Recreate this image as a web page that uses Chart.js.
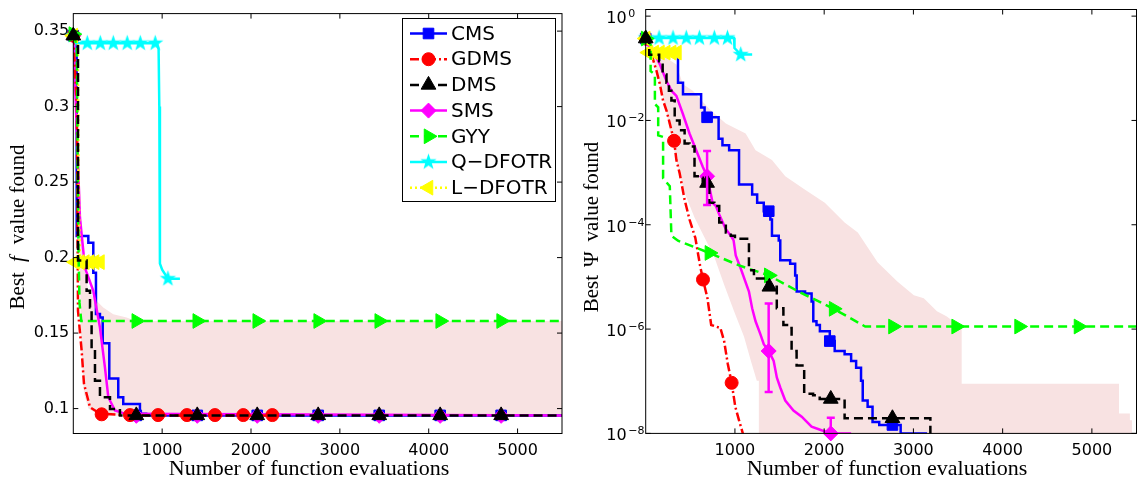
<!DOCTYPE html>
<html>
<head>
<meta charset="utf-8">
<script src="https://cdn.jsdelivr.net/npm/chart.js@4.4.1/dist/chart.umd.min.js"></script>
<style>
  html, body { margin: 0; padding: 0; background: #fff; }
  #wrap { position: relative; width: 1146px; height: 481px; }
  canvas { position: absolute; top: 0; }
</style>
</head>
<body>
<div id="wrap">
  <canvas id="fChart" width="575" height="481" style="left:0"></canvas>
  <canvas id="psiChart" width="571" height="481" style="left:575px"></canvas>
</div>
<script>
// ---- tick labels ----
var xTicks = [1000, 2000, 3000, 4000, 5000];
var fTicks = [0.1, 0.15, 0.2, 0.25, 0.3, 0.35];
var psiTicks = [1, 1e-2, 1e-4, 1e-6, 1e-8];

// ---- left panel: best f value ----
var cmsFX = [0, 38, 169, 225, 255, 300, 331, 405, 506, 562, 750, 820, 5500];
var cmsFY = [0.347, 0.2143, 0.2098, 0.190, 0.1626, 0.1603, 0.1432, 0.120, 0.1075, 0.1031, 0.0965, 0.0955, 0.0955];
var cmsFMarkX = [0, 709, 1395, 2070, 2756, 3443, 4129, 4815];
var cmsFMarkY = [0.347, 0.0955, 0.0955, 0.0955, 0.0955, 0.0955, 0.0955, 0.0955];

var gdmsFX = [0, 40, 53, 94, 120, 188, 300, 650, 2300];
var gdmsFY = [0.347, 0.30, 0.1647, 0.1383, 0.1165, 0.1009, 0.0967, 0.0955, 0.0955];
var gdmsFMarkX = [0, 319, 638, 954, 1279, 1594, 1913, 2240];
var gdmsFMarkY = [0.347, 0.0962, 0.0957, 0.0957, 0.0957, 0.0957, 0.0957, 0.0957];

var dmsFX = [0, 53, 150, 188, 206, 244, 300, 413, 525, 5500];
var dmsFY = [0.347, 0.198, 0.178, 0.167, 0.138, 0.1185, 0.1075, 0.0998, 0.0955, 0.0955];
var dmsFMarkX = [0, 709, 1395, 2070, 2756, 3443, 4129, 4815];
var dmsFMarkY = [0.347, 0.0955, 0.0955, 0.0955, 0.0955, 0.0955, 0.0955, 0.0955];

var smsFX = [0, 75, 132, 225, 300, 356, 394, 469, 588, 5500];
var smsFY = [0.347, 0.2264, 0.193, 0.178, 0.1537, 0.1273, 0.1075, 0.0987, 0.0965, 0.0955];
var smsFMarkX = [0, 709, 1395, 2070, 2756, 3443, 4129, 4815];
var smsFMarkY = [0.347, 0.0952, 0.0952, 0.0952, 0.0952, 0.0952, 0.0952, 0.0952];

var gyyFX = [0, 40, 50, 60, 70, 90, 5500];
var gyyFY = [0.348, 0.34, 0.25, 0.2, 0.17, 0.158, 0.158];
var gyyFMarkX = [0, 709, 1395, 2070, 2756, 3443, 4129, 4815];
var gyyFMarkY = [0.348, 0.158, 0.158, 0.158, 0.158, 0.158, 0.158, 0.158];

var qFX = [0, 30, 940, 960, 968, 975, 1000, 1065, 1200];
var qFY = [0.347, 0.342, 0.342, 0.338, 0.30, 0.196, 0.192, 0.186, 0.186];
var qFMarkX = [0, 157, 304, 450, 607, 754, 922, 1065];
var qFMarkY = [0.347, 0.342, 0.342, 0.342, 0.342, 0.342, 0.342, 0.186];

var lFX = [0, 50, 60, 75, 337];
var lFY = [0.347, 0.343, 0.25, 0.198, 0.196];
var lFMarkX = [0, 20, 75, 130, 185, 240, 300];
var lFMarkY = [0.347, 0.197, 0.197, 0.197, 0.197, 0.197, 0.197];

var bandFUpX = [0, 50, 80, 100, 170, 225, 337, 450, 600, 700, 5500];
var bandFUpY = [0.347, 0.30, 0.24, 0.20, 0.178, 0.1735, 0.1669, 0.1625, 0.1603, 0.158, 0.158];
var bandFLoX = [0, 50, 70, 90, 120, 170, 250, 400, 5500];
var bandFLoY = [0.347, 0.30, 0.20, 0.14, 0.11, 0.10, 0.097, 0.0955, 0.0955];

// ---- right panel: best psi value ----
var cmsPX = [0, 40, 362, 418, 621, 660, 817, 860, 935, 1046, 1193, 1249, 1323, 1397, 1415, 1491, 1508, 1619, 1675, 1692,
             1786, 1859, 1878, 1914, 1952, 2063, 2118, 2229, 2302, 2358, 2413, 2432, 2487, 2542, 2617, 2857, 3153];
var cmsPY = [0.372, 0.182, 0.0531, 0.0319, 0.0178, 0.0115, 0.00447, 0.00335, 0.00269, 5.89e-4, 3.80e-4, 2.63e-4, 1.82e-4, 1.26e-4, 6.17e-5, 5.01e-5, 2.09e-5, 1.78e-5, 1.07e-5, 5.25e-6,
             4.79e-6, 3.39e-6, 1.41e-6, 1.20e-6, 9.12e-7, 5.89e-7, 3.80e-7, 3.31e-7, 2.45e-7, 1.82e-7, 1.02e-7, 4.27e-8, 3.24e-8, 1.66e-8, 1.45e-8, 1e-8, 1e-8];
var cmsPMarkX = [0, 688, 1379, 2063, 2765];
var cmsPMarkY = [0.372, 0.0115, 1.82e-4, 5.89e-7, 1.45e-8];

var gdmsPX = [0, 40, 66, 122, 159, 195, 233, 270, 318, 344, 380, 436, 491, 556, 609, 642, 692, 734, 837, 879, 920, 963, 1004, 1046, 1087, 1100];
var gdmsPY = [0.372, 0.316, 0.182, 0.0881, 0.0493, 0.0240, 0.0155, 0.00871, 0.00407, 0.00174, 9.77e-4, 3.02e-4, 1.26e-4, 5.62e-5, 1.66e-5, 8.91e-6, 3.89e-6, 1.20e-6, 1.05e-6, 5.89e-7,
              2.14e-7, 9.33e-8, 3.24e-8, 1.78e-8, 1.02e-8, 5e-9];
var gdmsPMarkX = [0, 318, 642, 963];
var gdmsPMarkY = [0.372, 0.00407, 8.91e-6, 9.33e-8];

var dmsPX = [0, 40, 151, 190, 233, 260, 288, 325, 380, 436, 491, 547, 602, 639, 713, 769, 824, 898, 954, 1000,
             1157, 1213, 1360, 1469, 1543, 1598, 1635, 1691, 1776, 1876, 1950, 2229, 3190];
var dmsPY = [0.372, 0.182, 0.136, 0.0764, 0.0531, 0.0372, 0.0240, 0.0100, 0.00646, 0.00363, 0.00316, 8.51e-4, 7.94e-4, 6.31e-4, 2.63e-4, 2.29e-4, 1.10e-4, 7.08e-5, 6.17e-5, 5.37e-5,
             1.35e-5, 9.33e-6, 6.46e-6, 2.51e-6, 1.20e-6, 1.05e-6, 3.80e-7, 2.00e-7, 5.75e-8, 5.37e-8, 4.57e-8, 1.95e-8, 5e-9];
var dmsPMarkX = [0, 688, 1386, 2074, 2765];
var dmsPMarkY = [0.372, 6.31e-4, 6.46e-6, 4.57e-8, 1.95e-8];

var smsPX = [0, 40, 85, 159, 233, 288, 344, 417, 491, 566, 639, 688, 750, 787, 830, 898, 950, 985, 1009, 1065,
             1157, 1193, 1231, 1286, 1323, 1378, 1434, 1470, 1508, 1564, 1656, 1748, 1859, 1970, 2074, 2302];
var smsPY = [0.372, 0.25, 0.211, 0.118, 0.0570, 0.0372, 0.0295, 0.0133, 0.00562, 0.00269, 0.00130, 8.51e-4, 2.63e-4, 2.29e-4, 1.48e-4, 8.22e-5, 6.31e-5, 5.01e-5, 2.57e-5, 1.45e-5,
             5.25e-6, 2.51e-6, 1.41e-6, 7.94e-7, 5.13e-7, 3.80e-7, 2.45e-7, 1.17e-7, 7.59e-8, 4.27e-8, 2.75e-8, 2.09e-8, 1.35e-8, 1.15e-8, 1e-8, 1e-8];
var smsPMarkX = [0, 688, 1378, 2074];
var smsPMarkY = [0.372, 8.51e-4, 3.80e-7, 1e-8];
var smsErrX = [688, 1378, 2074];
var smsErrLo = [2.4e-4, 6.2e-8, 5e-9];
var smsErrHi = [2.6e-3, 3.1e-6, 2.0e-8];

var gyyPX = [0, 55, 55, 103, 103, 140, 140, 195, 195, 270, 288, 362, 714, 1047, 1379, 1711, 2106, 2460, 5500];
var gyyPY = [0.372, 0.282, 0.0881, 0.0764, 0.0206, 0.0179, 0.00518, 0.00483, 7.83e-4, 5.46e-4, 6.17e-5, 4.95e-5, 2.88e-5, 1.66e-5, 1.07e-5, 5.25e-6, 2.45e-6, 1.12e-6, 1.12e-6];
var gyyPMarkX = [0, 714, 1379, 2106, 2771, 3479, 4184, 4850];
var gyyPMarkY = [0.372, 2.88e-5, 1.07e-5, 2.45e-6, 1.12e-6, 1.12e-6, 1.12e-6, 1.12e-6];

var qPX = [0, 990, 995, 1065, 1193];
var qPY = [0.38, 0.38, 0.244, 0.183, 0.183];
var qPMarkX = [0, 150, 306, 455, 602, 769, 916, 1065];
var qPMarkY = [0.38, 0.38, 0.38, 0.38, 0.38, 0.38, 0.38, 0.183];

var lPX = [0, 20, 25, 360];
var lPY = [0.372, 0.37, 0.21, 0.2];
var lPMarkX = [0, 30, 95, 160, 225, 290, 350];
var lPMarkY = [0.372, 0.2, 0.2, 0.2, 0.2, 0.2, 0.2];

var bandPUpX = [0, 100, 250, 344, 417, 528, 713, 898, 1120, 1231, 1415, 1564, 1786, 2007, 2229, 2377, 2598, 2820, 3005, 3116,
                3264, 3375, 3541, 3541, 5304, 5304, 5426, 5426, 5449, 5449];
var bandPUpY = [0.372, 0.25, 0.15, 0.118, 0.0493, 0.0372, 0.0166, 0.00871, 0.00562, 0.00269, 0.00174, 8.51e-4, 4.68e-4, 2.63e-4, 1.10e-4, 7.08e-5, 1.91e-5, 8.13e-6, 4.47e-6, 3.89e-6,
                2.19e-6, 1.74e-6, 1.05e-6, 8.91e-8, 8.91e-8, 2.40e-8, 2.40e-8, 1.78e-8, 1.78e-8, 1e-9];
var bandPLoX = [0, 103, 214, 325, 436, 547, 658, 769, 879, 990, 1101, 1179, 1245, 1268, 1268, 5449];
var bandPLoY = [0.372, 0.118, 0.0204, 0.00234, 4.07e-4, 1.38e-4, 5.75e-5, 2.40e-5, 7.08e-6, 2.19e-6, 7.24e-7, 2.45e-7, 1.02e-7, 1.02e-7, 1e-9, 1e-9];

// ---- styles ----
var BLUE = '#0000ff', RED = '#ff0000', BLACK = '#000000', MAGENTA = '#ff00ff',
    GREEN = '#00ff00', CYAN = '#00ffff', YELLOW = '#ffff00', PINK = 'rgb(248,226,226)';
var DASH = [9, 5], DASHDOT = [9, 3, 2, 3], DOT = [2, 3];
var LW = 2.5;
var SANS = '"DejaVu Sans", "Liberation Sans", sans-serif';
var SERIF = '"Liberation Serif", "DejaVu Serif", serif';

function starImage(color, r) {
    var c = document.createElement('canvas');
    c.width = c.height = 2 * r + 2;
    var g = c.getContext('2d');
    g.beginPath();
    for (var i = 0; i < 10; i++) {
        var rr = i % 2 ? r * 0.4 : r;
        var ang = -Math.PI / 2 + i * Math.PI / 5;
        g.lineTo(r + 1 + rr * Math.cos(ang), r + 1 + rr * Math.sin(ang));
    }
    g.closePath();
    g.fillStyle = color;
    g.fill();
    return c;
}
var starPic = starImage(CYAN, 8.5);

var legendItems = [
    { label: 'CMS', color: BLUE, dash: [], shape: 'rect' },
    { label: 'GDMS', color: RED, dash: DASHDOT, shape: 'circle' },
    { label: 'DMS', color: BLACK, dash: DASH, shape: 'triangle', rot: 0 },
    { label: 'SMS', color: MAGENTA, dash: [], shape: 'rectRot' },
    { label: 'GYY', color: GREEN, dash: DASH, shape: 'triangle', rot: 90 },
    { label: 'Q\u2212DFOTR', color: CYAN, dash: [], shape: 'star' },
    { label: 'L\u2212DFOTR', color: YELLOW, dash: DOT, shape: 'triangle', rot: -90 }
];

function pts(xs, ys) {
    return xs.map(function (x, i) { return { x: x, y: ys[i] }; });
}
function bandShape(upX, upY, loX, loY) {
    var up = pts(upX, upY), lo = pts(loX, loY).reverse();
    return up.concat(lo);
}
function lineSet(xs, ys, color, dash, stepped, order) {
    return {
        data: pts(xs, ys), showLine: true, borderColor: color, borderWidth: LW,
        borderDash: dash, stepped: stepped, pointRadius: 0, fill: false, order: order
    };
}
function markSet(xs, ys, color, style, radius, rot, order) {
    return {
        data: pts(xs, ys), showLine: false, pointStyle: style, pointRadius: radius,
        pointRotation: rot || 0, pointBackgroundColor: color, pointBorderColor: color,
        pointBorderWidth: 1, clip: false, order: order
    };
}
function bandSet(points) {
    return {
        data: points, showLine: true, borderWidth: 0, borderColor: 'rgba(0,0,0,0)',
        backgroundColor: PINK, fill: 'shape', pointRadius: 0, order: 99
    };
}

function drawMarker(ctx, item, x, y) {
    ctx.save();
    ctx.setLineDash([]);
    ctx.fillStyle = item.color;
    ctx.strokeStyle = item.color;
    ctx.lineWidth = 1;
    ctx.beginPath();
    if (item.shape === 'star') {
        ctx.drawImage(starPic, x - starPic.width / 2, y - starPic.height / 2);
        ctx.restore();
        return;
    }
    if (item.shape === 'rect') {
        ctx.rect(x - 5.3, y - 5.3, 10.6, 10.6);
    } else if (item.shape === 'circle') {
        ctx.arc(x, y, 6.5, 0, 2 * Math.PI);
    } else if (item.shape === 'rectRot') {
        ctx.moveTo(x, y - 7.5); ctx.lineTo(x + 7.5, y); ctx.lineTo(x, y + 7.5); ctx.lineTo(x - 7.5, y);
    } else {
        var rad = (item.rot || 0) * Math.PI / 180;
        for (var k = 0; k < 3; k++) {
            var a = rad + k * 2 * Math.PI / 3;
            ctx.lineTo(x + Math.sin(a) * 8.5, y - Math.cos(a) * 8.5);
        }
    }
    ctx.closePath();
    ctx.fill();
    ctx.stroke();
    ctx.restore();
}

function drawFrame(chart, yTickList) {
    var ctx = chart.ctx, a = chart.chartArea, xs = chart.scales.x, ys = chart.scales.y;
    ctx.save();
    ctx.strokeStyle = '#000';
    ctx.lineWidth = 1;
    ctx.setLineDash([]);
    ctx.strokeRect(a.left, a.top, a.right - a.left, a.bottom - a.top);
    ctx.beginPath();
    xTicks.forEach(function (v) {
        var px = xs.getPixelForValue(v);
        ctx.moveTo(px, a.bottom); ctx.lineTo(px, a.bottom - 5);
        ctx.moveTo(px, a.top); ctx.lineTo(px, a.top + 5);
    });
    yTickList.forEach(function (v) {
        var py = ys.getPixelForValue(v);
        ctx.moveTo(a.left, py); ctx.lineTo(a.left + 5, py);
        ctx.moveTo(a.right, py); ctx.lineTo(a.right - 5, py);
    });
    ctx.stroke();
    ctx.restore();
}

function drawXTitle(chart, cx) {
    var ctx = chart.ctx;
    ctx.save();
    ctx.fillStyle = '#000';
    ctx.font = '22px ' + SERIF;
    ctx.textAlign = 'center';
    ctx.textBaseline = 'alphabetic';
    ctx.fillText('Number of function evaluations', cx, 475);
    ctx.restore();
}

function drawYTitle(chart, cx, cy, parts) {
    var ctx = chart.ctx;
    ctx.save();
    ctx.fillStyle = '#000';
    ctx.translate(cx, cy);
    ctx.rotate(-Math.PI / 2);
    ctx.textBaseline = 'middle';
    ctx.textAlign = 'left';
    var total = 0;
    parts.forEach(function (p) {
        ctx.font = p.font;
        p.w = ctx.measureText(p.text).width;
        total += p.w + p.gap;
    });
    var x = -total / 2;
    parts.forEach(function (p) {
        ctx.font = p.font;
        ctx.fillText(p.text, x, 0);
        x += p.w + p.gap;
    });
    ctx.restore();
}

function drawLegend(chart) {
    var ctx = chart.ctx;
    var left = 402.5, top = 18.5, w = 153, h = 183;
    ctx.save();
    ctx.fillStyle = '#fff';
    ctx.fillRect(left, top, w, h);
    ctx.strokeStyle = '#000';
    ctx.lineWidth = 1;
    ctx.strokeRect(left, top, w, h);
    legendItems.forEach(function (item, i) {
        var y = 33.5 + i * 25.7;
        ctx.strokeStyle = item.color;
        ctx.lineWidth = LW;
        ctx.setLineDash(item.dash);
        ctx.beginPath();
        ctx.moveTo(410, y);
        ctx.lineTo(447, y);
        ctx.stroke();
        drawMarker(ctx, item, 428.5, y);
        ctx.fillStyle = '#000';
        ctx.font = '20px ' + SANS;
        ctx.textAlign = 'left';
        ctx.textBaseline = 'middle';
        ctx.fillText(item.label, 451, y + 1);
    });
    ctx.restore();
}

var fPlugin = {
    id: 'fFrame',
    afterDatasetsDraw: function (chart) { drawFrame(chart, fTicks); },
    afterDraw: function (chart) {
        drawLegend(chart);
        drawXTitle(chart, 309);
        drawYTitle(chart, 18, 227, [
            { text: 'Best', font: '21px ' + SERIF, gap: 10 },
            { text: 'f', font: 'italic 21px ' + SERIF, gap: 12 },
            { text: 'value found', font: '21px ' + SERIF, gap: 0 }
        ]);
    }
};

var psiPlugin = {
    id: 'psiFrame',
    afterDatasetsDraw: function (chart) {
        var ctx = chart.ctx, a = chart.chartArea, xs = chart.scales.x, ys = chart.scales.y;
        ctx.save();
        ctx.beginPath();
        ctx.rect(a.left, a.top, a.right - a.left, a.bottom - a.top);
        ctx.clip();
        ctx.strokeStyle = MAGENTA;
        ctx.lineWidth = LW;
        ctx.setLineDash([]);
        smsErrX.forEach(function (v, i) {
            var px = xs.getPixelForValue(v);
            var p1 = ys.getPixelForValue(smsErrLo[i]), p2 = ys.getPixelForValue(smsErrHi[i]);
            ctx.beginPath();
            ctx.moveTo(px, p1); ctx.lineTo(px, p2);
            ctx.moveTo(px - 4, p1); ctx.lineTo(px + 4, p1);
            ctx.moveTo(px - 4, p2); ctx.lineTo(px + 4, p2);
            ctx.stroke();
        });
        ctx.restore();
        drawFrame(chart, psiTicks);
    },
    afterDraw: function (chart) {
        var ctx = chart.ctx, a = chart.chartArea, ys = chart.scales.y;
        ctx.save();
        ctx.fillStyle = '#000';
        ctx.textBaseline = 'alphabetic';
        psiTicks.forEach(function (v) {
            var py = ys.getPixelForValue(v);
            var e = Math.round(Math.log10(v));
            ctx.font = '16px ' + SANS;
            ctx.textAlign = 'right';
            ctx.fillText('10', a.left - 19, py + 7);
            ctx.font = '11px ' + SANS;
            ctx.textAlign = 'left';
            ctx.fillText(e === 0 ? '0' : '\u2212' + (-e), a.left - 17.5, py + 1);
        });
        ctx.restore();
        drawXTitle(chart, 312);
        drawYTitle(chart, 17, 227, [
            { text: 'Best', font: '21px ' + SERIF, gap: 8 },
            { text: '\u03A8', font: '21px ' + SERIF, gap: 10 },
            { text: 'value found', font: '21px ' + SERIF, gap: 0 }
        ]);
    }
};

function xScale(h) {
    return {
        type: 'linear', min: 0, max: 5500,
        grid: { display: false, drawTicks: false }, border: { display: false },
        afterBuildTicks: function (axis) { axis.ticks = xTicks.map(function (v) { return { value: v }; }); },
        afterFit: function (axis) { axis.height = h; },
        ticks: { font: { family: SANS, size: 16 }, color: '#000', padding: 8, maxRotation: 0, autoSkip: false,
                 callback: function (v) { return String(v); } }
    };
}

new Chart(document.getElementById('fChart'), {
    type: 'scatter',
    data: {
        datasets: [
            bandSet(bandShape(bandFUpX, bandFUpY, bandFLoX, bandFLoY)),
            lineSet(cmsFX, cmsFY, BLUE, [], true, 13),
            markSet(cmsFMarkX, cmsFMarkY, BLUE, 'rect', 7.5, 0, 12),
            lineSet(smsFX, smsFY, MAGENTA, [], false, 11),
            markSet(smsFMarkX, smsFMarkY, MAGENTA, 'rectRot', 7.5, 0, 10),
            lineSet(gdmsFX, gdmsFY, RED, DASHDOT, false, 9),
            markSet(gdmsFMarkX, gdmsFMarkY, RED, 'circle', 6.5, 0, 8),
            lineSet(qFX, qFY, CYAN, [], false, 7),
            markSet(qFMarkX, qFMarkY, CYAN, starPic, 8.5, 0, 6),
            lineSet(lFX, lFY, YELLOW, DOT, false, 5),
            markSet(lFMarkX, lFMarkY, YELLOW, 'triangle', 8.5, -90, 4),
            lineSet(gyyFX, gyyFY, GREEN, DASH, false, 3),
            markSet(gyyFMarkX, gyyFMarkY, GREEN, 'triangle', 8.5, 90, 2),
            lineSet(dmsFX, dmsFY, BLACK, DASH, true, 1),
            markSet(dmsFMarkX, dmsFMarkY, BLACK, 'triangle', 8.5, 0, 0)
        ]
    },
    options: {
        responsive: false, animation: false, devicePixelRatio: 1,
        layout: { padding: { left: 0, right: 13, top: 12, bottom: 0 } },
        plugins: { legend: { display: false }, tooltip: { enabled: false } },
        scales: {
            x: xScale(47.5),
            y: {
                type: 'linear', min: 0.0835, max: 0.3616,
                grid: { display: false, drawTicks: false }, border: { display: false },
                afterBuildTicks: function (axis) { axis.ticks = fTicks.map(function (v) { return { value: v }; }); },
                afterFit: function (axis) { axis.width = 73.3; },
                ticks: { font: { family: SANS, size: 16 }, color: '#000', padding: 4,
                         callback: function (v) { return String(v); } }
            }
        }
    },
    plugins: [fPlugin]
});

new Chart(document.getElementById('psiChart'), {
    type: 'scatter',
    data: {
        datasets: [
            bandSet(bandShape(bandPUpX, bandPUpY, bandPLoX, bandPLoY)),
            lineSet(cmsPX, cmsPY, BLUE, [], true, 13),
            markSet(cmsPMarkX, cmsPMarkY, BLUE, 'rect', 7.5, 0, 12),
            lineSet(smsPX, smsPY, MAGENTA, [], false, 11),
            markSet(smsPMarkX, smsPMarkY, MAGENTA, 'rectRot', 7.5, 0, 10),
            lineSet(gdmsPX, gdmsPY, RED, DASHDOT, false, 9),
            markSet(gdmsPMarkX, gdmsPMarkY, RED, 'circle', 6.5, 0, 8),
            lineSet(qPX, qPY, CYAN, [], false, 7),
            markSet(qPMarkX, qPMarkY, CYAN, starPic, 8.5, 0, 6),
            lineSet(lPX, lPY, YELLOW, DOT, false, 5),
            markSet(lPMarkX, lPMarkY, YELLOW, 'triangle', 8.5, -90, 4),
            lineSet(gyyPX, gyyPY, GREEN, DASH, false, 3),
            markSet(gyyPMarkX, gyyPMarkY, GREEN, 'triangle', 8.5, 90, 2),
            lineSet(dmsPX, dmsPY, BLACK, DASH, true, 1),
            markSet(dmsPMarkX, dmsPMarkY, BLACK, 'triangle', 8.5, 0, 0)
        ]
    },
    options: {
        responsive: false, animation: false, devicePixelRatio: 1,
        layout: { padding: { left: 0, right: 4.3, top: 4.3, bottom: 0 } },
        plugins: { legend: { display: false }, tooltip: { enabled: false } },
        scales: {
            x: xScale(47.6),
            y: {
                type: 'logarithmic', min: 1e-8, max: 1.34,
                grid: { display: false, drawTicks: false }, border: { display: false },
                afterBuildTicks: function (axis) { axis.ticks = psiTicks.map(function (v) { return { value: v }; }); },
                afterFit: function (axis) { axis.width = 70.7; },
                ticks: { display: false }
            }
        }
    },
    plugins: [psiPlugin]
});
</script>
</body>
</html>
